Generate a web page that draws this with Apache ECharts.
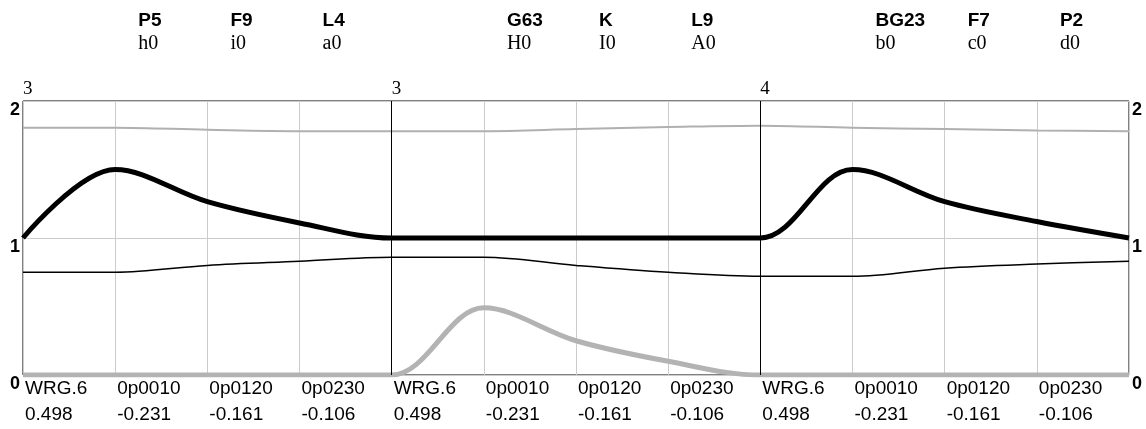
<!DOCTYPE html>
<html><head><meta charset="utf-8">
<script src="https://cdn.jsdelivr.net/npm/echarts@6/dist/echarts.min.js"></script>
<style>html,body{margin:0;padding:0;background:#fff}#c{width:1146px;height:429px}</style>
</head><body><div id="c"></div>
<script>
// ---- data ----
const categories = ['WRG.6','0p0010','0p0120','0p0230','WRG.6','0p0010','0p0120','0p0230','WRG.6','0p0010','0p0120','0p0230'];
const categoryValues = ['0.498','-0.231','-0.161','-0.106','0.498','-0.231','-0.161','-0.106','0.498','-0.231','-0.161','-0.106'];
const headerTop = ['','P5','F9','L4','','G63','K','L9','','BG23','F7','P2'];
const headerSub = ['','h0','i0','a0','','H0','I0','A0','','b0','c0','d0'];
const groupLabels = ['3','3','4'];
const groupSize = 4;
const yTicks = [0,1,2];
const thickBlack = [1.0,1.50,1.265,1.11,1.0,1.0,1.0,1.0,1.0,1.50,1.265,1.12,1.0];
const thickGray  = [0,0,0,0,0,0.49,0.25,0.10,0,0,0,0,0];
const thinBlack  = [0.75,0.75,0.80,0.83,0.86,0.86,0.80,0.75,0.72,0.72,0.78,0.81,0.83];
const thinGray   = [1.805,1.805,1.79,1.78,1.78,1.78,1.795,1.81,1.82,1.805,1.795,1.785,1.78];

const pts = arr => arr.map((v,i)=>[i,v]);
const nPts = thickBlack.length - 1;
const separators = [];
for (let g = 1; g < groupLabels.length; g++) separators.push({xAxis: g*groupSize});

const chart = echarts.init(document.getElementById('c'), null, {renderer:'canvas'});
const SANS = '"Liberation Sans", Arial, sans-serif';
const SERIF = '"Liberation Serif", "Times New Roman", serif';
const SMOOTH = 0.35;

chart.setOption({
  animation:false,
  grid:{left:23,right:17,top:101,bottom:54,show:true,borderColor:'#000',borderWidth:1,backgroundColor:'transparent'},
  xAxis:[
    { type:'value',min:0,max:nPts,interval:1,position:'bottom',
      axisLine:{show:false},axisTick:{show:false},
      splitLine:{show:true,lineStyle:{color:'#cccccc',width:1}},
      axisLabel:{show:true,margin:1,align:'left',padding:[0,0,0,2],
        fontFamily:SANS,fontSize:19,color:'#000',lineHeight:26,
        formatter:v=>{const i=Math.round(v); return i<categories.length? categories[i]+'\n'+categoryValues[i] : '';}}
    },
    { type:'value',min:0,max:nPts,interval:1,position:'top',offset:0,
      axisLine:{show:false},axisTick:{show:false},splitLine:{show:false},
      axisLabel:{show:true,margin:2,align:'left',fontFamily:SERIF,fontSize:19,color:'#000',lineHeight:20,
        formatter:v=>{const i=Math.round(v); if(i%groupSize!==0) return ''; const g=i/groupSize; return g<groupLabels.length?groupLabels[g]:'';}}
    },
    { type:'value',min:0,max:nPts,interval:0.25,position:'top',offset:46,
      axisLine:{show:false},axisTick:{show:false},splitLine:{show:false},
      axisLabel:{show:true,margin:0,align:'left',
        formatter:v=>{const q=Math.round(v*4); if(q%4!==1) return ''; const i=(q-1)/4; if(!headerTop[i]) return ''; return '{t|'+headerTop[i]+'}\n{s|'+headerSub[i]+'}';},
        rich:{t:{fontFamily:SANS,fontWeight:'bold',fontSize:19,lineHeight:23,color:'#000'},
              s:{fontFamily:SERIF,fontSize:20,lineHeight:23,color:'#000'}}}
    }
  ],
  yAxis:[
    { type:'value',min:yTicks[0],max:yTicks[yTicks.length-1],interval:1,position:'left',
      axisLine:{show:false},axisTick:{show:false},
      splitLine:{show:true,lineStyle:{color:'#cccccc',width:1}},
      axisLabel:{show:true,margin:3,verticalAlign:'top',fontFamily:SANS,fontWeight:'bold',fontSize:18,color:'#000'}
    },
    { type:'value',min:yTicks[0],max:yTicks[yTicks.length-1],interval:1,position:'right',
      axisLine:{show:false},axisTick:{show:false},splitLine:{show:false},
      axisLabel:{show:true,margin:3,verticalAlign:'top',fontFamily:SANS,fontWeight:'bold',fontSize:18,color:'#000'}
    }
  ],
  series:[
    { type:'line',name:'thinGray',data:pts(thinGray),smooth:SMOOTH,symbol:'none',
      lineStyle:{color:'#b0b0b0',width:2},z:3},
    { type:'line',name:'thinBlack',data:pts(thinBlack),smooth:SMOOTH,symbol:'none',
      lineStyle:{color:'#000',width:1.5},z:3,
      markLine:{silent:true,symbol:['none','none'],label:{show:false},
        lineStyle:{color:'#000',width:1,type:'solid'},data:separators}},
    { type:'line',name:'thickGray',data:pts(thickGray),smooth:SMOOTH,symbol:'none',
      lineStyle:{color:'#b3b3b3',width:5},z:4},
    { type:'line',name:'thickBlack',data:pts(thickBlack),smooth:SMOOTH,symbol:'none',
      lineStyle:{color:'#000',width:5},z:5}
  ]
});
</script></body></html>
